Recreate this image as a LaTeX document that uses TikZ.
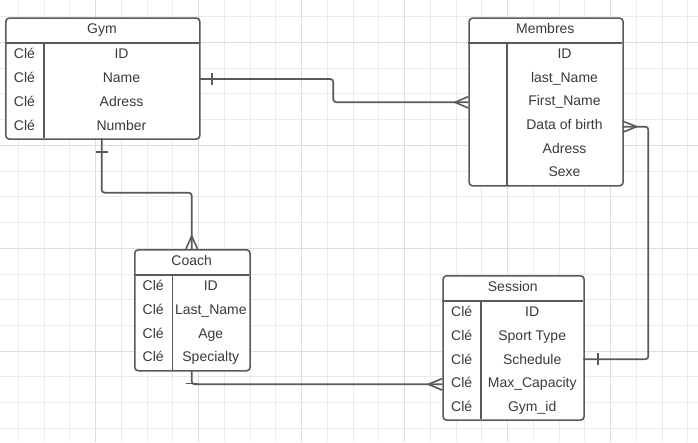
\documentclass[tikz,border=0pt]{standalone}
\usepackage{fontspec}
\setmainfont{Liberation Sans}
\begin{document}
\begin{tikzpicture}[x=1pt,y=-1pt,
  every node/.style={font=\fontsize{14}{16}\selectfont, text=txtc, inner sep=0pt},
  tbl/.style={draw=linec, line width=1.6pt, rounded corners=3.5pt, fill=white, anchor=north west, inner sep=0pt},
  sep/.style={draw=linec, line width=1.6pt},
  conn/.style={draw=linec, line width=1.7pt, rounded corners=3pt},
  endmark/.style={draw=linec, line width=1.6pt},
  cell/.style={anchor=base},
  gridminor/.style={draw=gridmin, line width=0.9pt},
  gridmajor/.style={draw=gridmaj, line width=1pt}]
\definecolor{linec}{HTML}{5A5A5A}
\definecolor{txtc}{HTML}{3A3A3A}
\definecolor{gridmin}{HTML}{EBEBEB}
\definecolor{gridmaj}{HTML}{DDDDDD}
\useasboundingbox[fill=white] (0,0) rectangle (698,442);
% grid
\foreach \k in {0,...,26}{
  \pgfmathsetmacro\gx{18.3+25.75*\k}
  \draw[gridminor] (\gx,0) -- (\gx,442);}
\foreach \j in {0,...,16}{
  \pgfmathsetmacro\gy{16.7+25.725*\j}
  \draw[gridminor] (0,\gy) -- (698,\gy);}
\foreach \k in {3,7,...,23}{
  \pgfmathsetmacro\gx{18.3+25.75*\k}
  \draw[gridmajor] (\gx,0) -- (\gx,442);}
\foreach \j in {1,5,9,13}{
  \pgfmathsetmacro\gy{16.7+25.725*\j}
  \draw[gridmajor] (0,\gy) -- (698,\gy);}

% ---------- Gym ----------
\node[tbl, minimum width=194pt, minimum height=121pt] (gym) at (5,17.3) {};
\draw[sep] (5,42.7) -- (199,42.7);
\draw[sep] (44,42.7) -- (44,138.3);
\node[cell] (gymT) at (102,33.6) {Gym};
\foreach \r/\v [count=\i] in {54.65/ID,78.55/Name,102.45/Adress,126.35/Number}{
  \node[cell] (gymK\i) at (24.5,\r+3.8) {Clé};
  \node[cell] (gymV\i) at (121.5,\r+3.8) {\v};}

% ---------- Membres ----------
\node[tbl, minimum width=154pt, minimum height=167.7pt] (mem) at (468.3,17.3) {};
\draw[sep] (468.3,42.7) -- (622.3,42.7);
\draw[sep] (506.7,42.7) -- (506.7,185);
\node[cell] (memT) at (545.3,33.6) {Membres};
\foreach \r/\v [count=\i] in {54.56/ID,78.28/last\_Name,102/First\_Name,125.7/Data of birth,149.4/Adress,173.1/Sexe}{
  \node[cell] (memV\i) at (564.5,\r+3.8) {\v};}

% ---------- Coach ----------
\node[tbl, minimum width=115.3pt, minimum height=121pt] (coach) at (134,249) {};
\draw[sep] (134,275) -- (249.3,275);
\draw[sep] (172.3,275) -- (172.3,370);
\node[cell] (coachT) at (191.7,265.3) {Coach};
\foreach \r/\v [count=\i] in {286.9/ID,310.6/Last\_Name,334.4/Age,358.1/Specialty}{
  \node[cell] (coachK\i) at (153.2,\r+3.8) {Clé};
  \node[cell] (coachV\i) at (210.8,\r+3.8) {\v};}

% ---------- Session ----------
\node[tbl, minimum width=141pt, minimum height=144.3pt] (sess) at (442.3,275) {};
\draw[sep] (442.3,301) -- (583.3,301);
\draw[sep] (481,301) -- (481,419.3);
\node[cell] (sessT) at (512.8,291.3) {Session};
\foreach \r/\v [count=\i] in {312.8/ID,336.5/Sport Type,360.2/Schedule,383.8/Max\_Capacity,407.5/Gym\_id}{
  \node[cell] (sessK\i) at (461.7,\r+3.8) {Clé};
  \node[cell] (sessV\i) at (532.2,\r+3.8) {\v};}

% ---------- connector end points ----------
\coordinate (gymR) at (199,79);
\coordinate (memL) at (468.3,102.3);
\coordinate (gymB) at (101.7,138.3);
\coordinate (coachTop) at (191.7,249);
\coordinate (coachB) at (191.7,370);
\coordinate (sessL) at (442.3,384.3);
\coordinate (memR) at (622.3,126.7);
\coordinate (sessR) at (583.3,359.3);

% Gym -- Membres
\draw[conn] (gymR) -- (333.3,79) -- (333.3,102.3) -- (memL);
\draw[endmark] (212,73) -- (212,85);
\draw[endmark] (455,102.3) -- (468.3,96.6) (455,102.3) -- (468.3,108);

% Gym -- Coach
\draw[conn] (gymB) -- (101.7,192.7) -- (191.7,192.7) -- (coachTop);
\draw[endmark] (95.7,152) -- (107.7,152);
\draw[endmark] (191.7,236) -- (185.9,249) (191.7,236) -- (197.5,249);

% Coach -- Session
\draw[conn] (coachB) -- (191.7,384.3) -- (sessL);
\draw[endmark] (185.7,383.6) -- (197.7,383.6);
\draw[endmark] (428.3,384.3) -- (442.3,378.5) (428.3,384.3) -- (442.3,390.1);

% Membres -- Session
\draw[conn] (memR) -- (648.3,126.7) -- (648.3,359.3) -- (sessR);
\draw[endmark] (636.7,126.7) -- (622.3,121) (636.7,126.7) -- (622.3,132.4);
\draw[endmark] (597.7,353.3) -- (597.7,365.3);
\end{tikzpicture}
\end{document}
